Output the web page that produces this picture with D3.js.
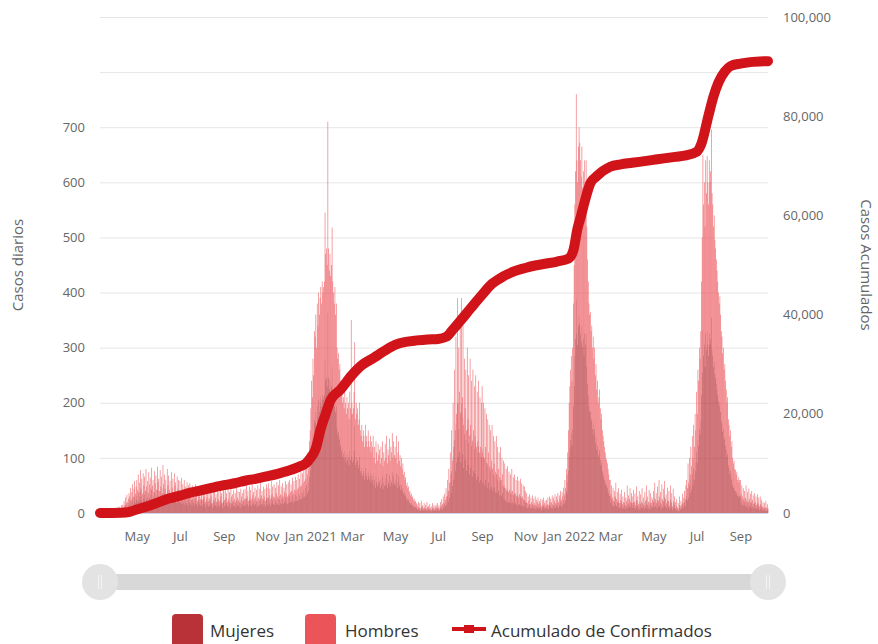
<!DOCTYPE html>
<html><head><meta charset="utf-8">
<script src="https://cdn.jsdelivr.net/npm/d3@7"></script>
<style>body{margin:0;background:#fff}svg{display:block}</style>
</head><body><svg id="c" width="878" height="644"></svg>
<script>
// ---------- DATA ----------
const fechaInicio = "2020-03-10";
const mujeres = [
0,0,0,1,0,0,1,0,1,2,0,1,1,2,0,2,1,3,1,2,3,2,
3,4,2,5,3,6,4,5,7,4,8,5,11,7,15,9,17,10,13,19,15,23,12,20,27,15,22,30,18,25,
31,22,36,20,29,40,23,32,18,37,26,34,21,41,25,30,19,38,27,33,23,42,26,31,20,39,28,35,22,43,29,
32,21,40,25,34,19,45,27,36,23,31,17,41,26,35,22,30,16,38,24,32,20,37,26,29,18,34,23,31,21,
30,19,33,16,27,21,31,15,25,18,29,14,26,20,28,16,24,13,26,19,23,15,27,17,22,12,25,16,21,14,24,
23,13,26,16,21,11,24,15,20,12,27,14,22,16,19,10,25,13,21,15,18,11,23,14,20,12,24,16,19,10,22,
21,13,24,15,19,11,23,14,20,10,25,16,18,12,22,14,19,11,24,15,21,13,20,10,23,16,19,12,22,14,
23,14,26,16,21,12,25,15,22,13,27,17,20,14,24,16,22,11,26,15,23,13,28,17,21,14,25,16,23,12,27,
24,15,28,17,23,14,30,18,25,16,27,15,24,19,29,16,26,14,31,18,25,17,28,16,24,20,30,18,27,16,
29,18,31,20,27,21,33,19,30,22,34,21,31,23,36,24,32,25,39,26,37,28,43,30,46,32,51,36,56,41,66,
77,98,123,108,143,128,169,164,184,154,194,174,205,184,200,210,194,215,205,210,215,279,241,246,230,363,246,225,241,220,230,
265,215,205,194,210,184,194,154,143,148,133,138,123,113,118,102,107,97,113,102,92,107,97,102,87,113,97,179,
102,92,97,113,159,87,102,92,97,82,87,102,77,72,82,67,77,72,61,82,67,72,61,77,67,61,72,56,67,61,72,
51,61,46,67,56,49,64,54,59,46,61,51,67,43,56,49,64,51,72,46,59,54,69,49,61,56,74,51,67,54,
61,51,72,46,56,67,49,54,43,51,41,46,36,38,31,33,26,28,23,25,19,20,16,18,14,15,12,13,10,11,9,
8,6,10,5,9,4,11,6,7,5,9,5,8,4,10,6,7,4,8,5,6,3,9,5,7,4,6,8,5,9,
5,7,4,10,6,13,8,15,9,18,12,23,15,31,20,41,28,56,36,77,49,102,61,133,77,163,92,199,102,153,112,
184,92,199,107,173,82,143,97,133,77,153,87,128,71,143,82,122,66,133,77,117,71,128,61,112,66,122,56,107,61,102,
117,56,102,51,97,61,92,46,87,56,82,43,77,48,82,41,71,46,66,38,71,36,61,41,56,33,61,31,51,36,
48,26,46,23,41,20,43,19,38,21,36,18,41,20,33,16,36,18,31,15,34,14,30,17,32,13,28,15,26,12,24,
20,10,18,9,15,11,17,8,14,10,16,8,13,9,15,7,12,10,14,8,11,9,13,6,12,8,14,9,11,7,
12,8,14,7,15,9,13,10,16,8,14,11,17,9,15,12,18,10,16,13,20,12,19,15,23,17,31,23,41,36,56,
77,102,117,133,145,122,153,194,230,286,316,388,326,306,339,357,343,326,311,339,301,316,286,326,306,326,265,235,214,194,184,
186,168,173,153,163,143,153,128,138,114,122,102,107,114,97,87,92,77,71,66,61,56,51,49,46,41,36,31,
31,18,26,14,23,11,20,15,28,13,19,10,23,9,18,12,21,8,15,10,19,7,14,11,26,9,16,13,23,10,18,
15,9,21,10,18,7,24,11,15,8,20,6,17,10,23,9,14,8,19,11,25,8,15,10,21,7,18,9,14,12,
20,10,28,13,18,9,24,11,31,14,19,8,26,12,22,10,30,13,17,9,23,11,20,7,25,10,18,6,22,9,15,
10,4,13,5,9,3,15,6,11,8,18,9,14,20,13,25,31,23,46,28,51,36,61,43,71,51,82,61,92,77,
112,92,133,122,153,143,168,214,255,332,286,306,265,326,296,330,306,286,326,306,316,355,296,286,265,275,253,245,235,224,214,
204,194,200,184,168,163,148,153,133,138,122,114,102,107,87,82,71,77,61,66,51,46,48,41,40,36,38,31,33,28,31,
31,18,26,15,23,13,20,14,26,11,19,10,22,13,18,9,20,12,16,8,18,10,15,7,17,9,14,6,15,8,
12,6,10,5,9,4,11,5,8,5
];
const hombres = [
0,0,1,0,0,1,0,2,1,0,1,2,0,1,3,1,2,0,3,2,1,4,
2,4,2,5,3,6,3,4,7,4,7,5,11,7,13,9,16,10,13,17,15,22,12,18,25,15,22,28,17,23,
29,20,34,18,26,38,22,30,17,35,24,32,19,39,23,28,17,36,25,31,21,40,24,29,18,37,26,33,20,41,27,
30,19,38,23,32,17,42,25,34,21,29,15,39,24,33,20,28,14,36,22,30,18,35,24,27,16,32,21,29,19,
28,17,31,14,25,19,29,13,23,16,27,12,24,18,26,14,22,11,24,17,21,13,25,15,20,10,23,14,19,12,22,
21,11,24,14,19,9,22,13,18,10,25,12,20,14,17,8,23,11,19,13,16,9,21,12,18,10,22,14,17,8,20,
19,11,22,13,17,9,21,12,18,8,23,14,16,10,20,12,17,9,22,13,19,11,18,8,21,14,17,10,20,12,
21,12,24,14,19,10,23,13,20,11,25,15,18,12,22,14,20,9,24,13,21,11,26,15,19,12,23,14,21,10,25,
22,13,26,15,21,12,28,16,23,14,25,13,22,17,27,14,24,12,29,16,23,15,26,14,22,18,28,16,25,14,
27,16,29,18,25,19,31,17,28,20,32,19,29,21,34,22,30,23,37,24,35,26,41,28,44,30,49,34,54,39,64,
73,92,117,102,137,122,161,156,176,146,186,166,195,176,190,200,186,205,195,200,205,266,229,234,220,347,234,215,229,210,220,
253,205,195,186,200,176,186,146,137,142,127,132,117,107,112,98,103,93,107,98,88,103,93,98,83,107,93,171,
98,88,93,107,151,83,98,88,93,78,83,98,73,68,78,63,73,68,59,78,63,68,59,73,63,59,68,54,63,59,68,
49,59,44,63,54,46,61,51,56,44,59,49,63,42,54,46,61,49,68,44,56,51,66,46,59,54,71,49,63,51,
59,49,68,44,54,63,46,51,42,49,39,44,34,37,29,32,24,27,22,23,19,20,16,17,14,15,12,13,10,11,9,
8,6,10,5,9,4,11,6,7,4,9,5,7,3,10,5,6,4,8,4,6,3,9,5,7,4,6,7,5,9,
5,7,4,10,6,12,8,15,9,17,12,22,15,29,20,39,27,54,34,73,46,98,59,127,73,157,88,191,98,147,108,
176,88,191,103,167,78,137,93,127,73,147,83,122,69,137,78,118,64,127,73,113,69,122,59,108,64,118,54,103,59,98,
113,54,98,49,93,59,88,44,83,54,78,42,73,47,78,39,69,44,64,37,69,34,59,39,54,32,59,29,49,34,
47,24,44,22,39,20,42,19,37,21,34,17,39,20,32,16,34,18,29,15,32,14,28,17,30,13,26,15,24,12,24,
20,10,18,9,15,11,17,8,14,10,16,7,13,9,15,7,12,10,14,8,11,9,13,6,12,7,14,9,11,7,
12,8,14,7,15,9,13,10,16,7,14,11,17,9,15,12,18,10,16,13,20,12,19,15,23,17,29,22,39,34,54,
73,98,113,127,140,118,147,186,220,274,304,372,314,294,326,343,329,314,299,326,289,304,274,314,294,314,255,225,206,186,176,
179,162,167,147,157,137,147,122,132,110,118,98,103,110,93,83,88,73,69,64,59,54,49,47,44,39,34,29,
29,17,24,14,22,11,20,15,27,12,19,10,22,9,17,12,21,8,15,10,19,7,14,11,24,9,16,13,22,10,18,
15,9,21,10,17,7,24,11,15,8,20,6,17,10,22,9,14,7,19,11,25,8,15,10,21,7,18,9,14,12,
20,10,27,12,18,9,24,11,29,14,19,8,26,12,22,10,28,13,17,9,23,11,20,7,25,10,18,6,22,9,15,
10,4,12,5,9,3,15,6,11,7,17,9,14,20,12,25,29,22,44,27,49,34,59,42,69,49,78,59,88,73,
108,88,127,118,147,137,162,206,245,318,274,294,255,314,284,318,294,274,314,294,304,341,284,274,255,265,243,235,225,216,206,
196,186,193,176,162,157,142,147,127,132,118,110,98,103,83,78,69,73,59,64,49,44,47,39,38,34,37,29,32,27,29,
29,17,24,15,22,12,20,14,24,11,19,10,22,13,17,9,20,12,16,8,18,10,15,7,17,9,14,6,15,8,
12,6,10,5,9,4,11,5,8,4
];
const acumFechas = ["2020-03-10","2020-04-09","2020-04-21","2020-05-01","2020-05-15","2020-05-29","2020-06-13","2020-07-01","2020-07-16","2020-08-01","2020-08-16","2020-09-01","2020-09-16","2020-10-01","2020-10-16","2020-11-01","2020-11-16","2020-12-01","2020-12-16","2020-12-26","2021-01-01","2021-01-09","2021-01-16","2021-01-23","2021-01-30","2021-02-13","2021-03-01","2021-03-15","2021-04-01","2021-04-15","2021-05-01","2021-05-16","2021-06-01","2021-06-16","2021-07-01","2021-07-12","2021-07-23","2021-08-01","2021-08-16","2021-09-01","2021-09-15","2021-10-01","2021-10-16","2021-11-01","2021-11-15","2021-12-01","2021-12-16","2022-01-01","2022-01-08","2022-01-14","2022-01-18","2022-01-24","2022-02-01","2022-02-10","2022-03-01","2022-03-16","2022-04-01","2022-04-16","2022-05-01","2022-05-16","2022-06-01","2022-06-16","2022-07-01","2022-07-08","2022-07-18","2022-07-25","2022-08-01","2022-08-10","2022-08-18","2022-09-01","2022-09-15","2022-10-10"];
const acumValores = [0,50,250,700,1300,2000,2800,3500,4100,4600,5100,5600,6000,6500,6900,7400,7900,8500,9300,10000,11000,13000,17000,20000,22800,24900,27800,29800,31300,32600,33900,34500,34800,35000,35100,35500,37200,38700,41300,44000,46200,47700,48700,49400,49900,50300,50700,51300,53000,57500,59500,62800,66500,67900,69800,70300,70600,70900,71200,71500,71800,72100,72800,74500,80200,84000,86800,89000,90100,90600,90900,91100];
const gridIzq = [0,100,200,300,400,500,600,700,800,900];
const ticksIzq = [0,100,200,300,400,500,600,700];
const ticksDer = [0,20000,40000,60000,80000,100000];
const mesesTicks = ["2020-05-01","2020-07-01","2020-09-01","2020-11-01","2021-01-01","2021-03-01","2021-05-01","2021-07-01","2021-09-01","2021-11-01","2022-01-01","2022-03-01","2022-05-01","2022-07-01","2022-09-01"];
const mesesEtiquetas = ["May","Jul","Sep","Nov","Jan 2021","Mar","May","Jul","Sep","Nov","Jan 2022","Mar","May","Jul","Sep"];
const nombresSeries = ["Mujeres","Hombres","Acumulado de Confirmados"];
const colores = ["#b83238","#eb555a","#d1131a"];

// ---------- CHART ----------
const svg = d3.select("#c");
const FONT = "'Open Sans', sans-serif";
const parse = d3.utcParse("%Y-%m-%d");
const t0 = parse(fechaInicio);
const n = mujeres.length;
const fechas = d3.range(n).map(i => d3.utcDay.offset(t0, i));
const x = d3.scaleUtc().domain([t0, fechas[n-1]]).range([100, 768]);
const yL = d3.scaleLinear().domain([0, 900]).range([513, 17]);
const yR = d3.scaleLinear().domain([0, 100000]).range([513, 17]);

// grid
svg.append("g").selectAll("line").data(gridIzq).join("line")
  .attr("x1", 100).attr("x2", 768)
  .attr("y1", d => yL(d) + 0.5).attr("y2", d => yL(d) + 0.5)
  .attr("stroke", "#e6e6e6").attr("stroke-width", 1);

// bars (stacked)
const filas = fechas.map((f, i) => ({f, m: mujeres[i], h: hombres[i]}));
const paso = (x(fechas[1]) - x(fechas[0]));
const bw = paso * 0.9;
const gb = svg.append("g");
gb.selectAll("rect.m").data(filas).join("rect").attr("class","m")
  .attr("x", d => x(d.f) - bw/2).attr("width", bw)
  .attr("y", d => yL(d.m)).attr("height", d => yL(0) - yL(d.m))
  .attr("fill", colores[0]).attr("fill-opacity", 0.9);
gb.selectAll("rect.h").data(filas).join("rect").attr("class","h")
  .attr("x", d => x(d.f) - bw/2).attr("width", bw)
  .attr("y", d => yL(d.m + d.h)).attr("height", d => yL(d.m) - yL(d.m + d.h))
  .attr("fill", colores[1]).attr("fill-opacity", 0.85);

// baseline
svg.append("line").attr("x1",100).attr("x2",768).attr("y1",513.5).attr("y2",513.5)
  .attr("stroke","#ccd6eb").attr("stroke-width",1);

// cumulative line
const acum = acumFechas.map((d, i) => ({f: parse(d), v: acumValores[i]}));
svg.append("path").datum(acum)
  .attr("d", d3.line().x(d => x(d.f)).y(d => yR(d.v)).curve(d3.curveMonotoneX))
  .attr("fill","none").attr("stroke", colores[2]).attr("stroke-width", 10)
  .attr("stroke-linecap","round").attr("stroke-linejoin","round");

// axes
function estilo(g){
  g.select(".domain").remove();
  g.selectAll("text").attr("fill","#666").style("font-family",FONT).style("font-size","13px");
}
svg.append("g").attr("transform","translate(100,0)")
  .call(d3.axisLeft(yL).tickValues(ticksIzq).tickSize(0).tickPadding(15)).call(estilo);
svg.append("g").attr("transform","translate(768,0)")
  .call(d3.axisRight(yR).tickValues(ticksDer).tickSize(0).tickPadding(15).tickFormat(d3.format(","))).call(estilo);
svg.append("g").attr("transform","translate(0,513)")
  .call(d3.axisBottom(x).tickValues(mesesTicks.map(parse)).tickSize(0).tickPadding(19)
    .tickFormat((d,i) => mesesEtiquetas[i])).call(estilo);

// axis titles
svg.append("text").attr("transform","translate(23,265) rotate(-90)")
  .attr("text-anchor","middle").attr("fill","#666")
  .style("font-family",FONT).style("font-size","15px").text("Casos diarios");
svg.append("text").attr("transform","translate(861,265) rotate(90)")
  .attr("text-anchor","middle").attr("fill","#666")
  .style("font-family",FONT).style("font-size","15px").text("Casos Acumulados");

// navigator scrollbar
const nav = svg.append("g");
nav.append("rect").attr("x",100).attr("y",574).attr("width",668).attr("height",16)
  .attr("rx",8).attr("fill","#d8d8d8");
[100, 768].forEach(cx => {
  nav.append("circle").attr("cx",cx).attr("cy",582).attr("r",18).attr("fill","#e3e3e3");
  [-1.5, 1.5].forEach(dx => nav.append("line")
    .attr("x1",cx+dx).attr("x2",cx+dx).attr("y1",575).attr("y2",589)
    .attr("stroke","#f4f4f4").attr("stroke-width",1));
});

// legend
const lg = svg.append("g");
const lx = [172, 305, 452];
const tx = [210, 345, 491];
[0,1].forEach(i => {
  lg.append("rect").attr("x",lx[i]).attr("y",614).attr("width",31).attr("height",34)
    .attr("rx",4).attr("fill",colores[i]);
});
lg.append("line").attr("x1",452).attr("x2",486).attr("y1",629).attr("y2",629)
  .attr("stroke",colores[2]).attr("stroke-width",4);
lg.append("rect").attr("x",464).attr("y",625).attr("width",10).attr("height",8).attr("fill",colores[2]);
nombresSeries.forEach((s,i) => {
  lg.append("text").attr("x",tx[i]).attr("y",637).attr("fill","#333")
    .style("font-family",FONT).style("font-size","17px").text(s);
});
</script>
</body></html>
